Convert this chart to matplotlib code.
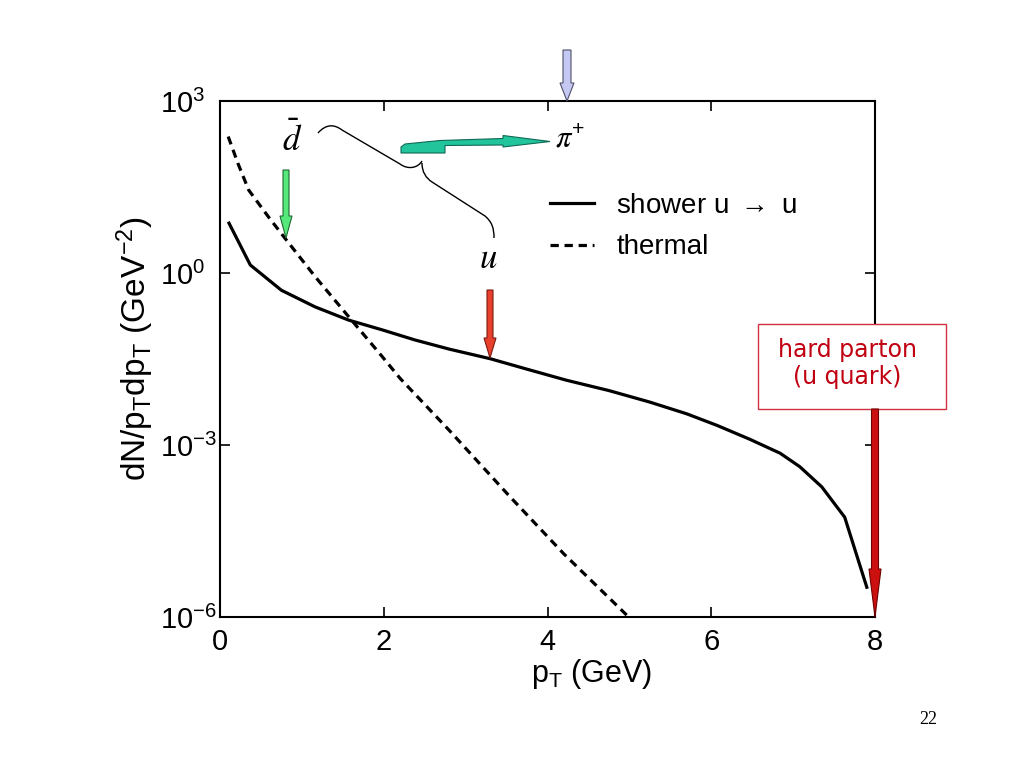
import matplotlib
matplotlib.use("Agg")
import matplotlib.pyplot as plt
import numpy as np
from matplotlib.patches import Polygon, Rectangle, PathPatch
from matplotlib.path import Path
from matplotlib.transforms import Affine2D

plt.rcParams["font.family"] = ["Liberation Sans", "DejaVu Sans"]
plt.rcParams["mathtext.fontset"] = "custom"
plt.rcParams["mathtext.rm"] = "Liberation Sans"
plt.rcParams["mathtext.it"] = "Liberation Sans:italic"
plt.rcParams["mathtext.bf"] = "Liberation Sans:bold"
plt.rcParams["mathtext.default"] = "regular"

# shower u -> u (solid curve)
shower_pt = [0.11, 0.37, 0.75, 1.16, 1.57, 1.98, 2.38, 2.80, 3.30, 3.75, 4.23,
             4.75, 5.25, 5.70, 6.07, 6.47, 6.84, 7.08, 7.35, 7.63, 7.90]
shower_dn = [7.4, 1.38, 0.50, 0.257, 0.151, 0.102, 0.068, 0.047, 0.032, 0.021,
             0.0135, 0.0089, 0.0056, 0.0035, 0.0022, 0.00126, 7.2e-4, 4.2e-4,
             1.86e-4, 5.5e-5, 3.3e-6]

# thermal (dashed curve)
thermal_pt = [0.10, 0.22, 0.35, 0.59, 0.79, 1.16, 1.57, 1.98, 2.20, 2.80, 3.54,
              4.20, 4.97]
thermal_dn = [240.0, 81.0, 28.0, 9.6, 4.1, 0.87, 0.174, 0.035, 0.0145, 1.8e-3,
              1.26e-4, 1.26e-5, 1.07e-6]

x_ticks = [0, 2, 4, 6, 8]
y_ticks = [1e-6, 1e-3, 1e0, 1e3]
y_tick_labels = [r"$10^{-6}$", r"$10^{-3}$", r"$10^{0}$", r"$10^{3}$"]
legend_labels = [r"shower u $\rightarrow$ u", "thermal"]

W, H = 1024, 768
fig = plt.figure(figsize=(W / 100, H / 100), dpi=100)
ax = fig.add_axes([220 / W, 1 - 617 / H, 655 / W, 516 / H])

ax.plot(shower_pt, shower_dn, color="black", lw=2.3, solid_joinstyle="round",
        label=legend_labels[0])
ax.plot(thermal_pt, thermal_dn, color="black", lw=2.3,
        linestyle=(0, (2.6, 1.8)), label=legend_labels[1])

ax.set_yscale("log")
ax.set_xlim(0, 8)
ax.set_ylim(1e-6, 1e3)
ax.set_xticks(x_ticks)
ax.set_xticklabels([str(t) for t in x_ticks])
ax.set_yticks(y_ticks)
ax.set_yticklabels(y_tick_labels)
ax.yaxis.set_minor_locator(matplotlib.ticker.NullLocator())
ax.tick_params(direction="in", top=True, right=True, length=7, width=1.2,
               labelsize=21)
ax.tick_params(axis="y", pad=43)
ax.tick_params(axis="x", pad=8)
for lbl in ax.get_yticklabels():
    lbl.set_horizontalalignment("left")
for sp in ax.spines.values():
    sp.set_linewidth(1.5)

ax.set_xlabel(r"p$_T$ (GeV)", fontsize=22)
ax.xaxis.set_label_coords(0.567, -0.078)
ax.set_ylabel(r"dN/p$_T$dp$_T$ (GeV$^{-2}$)", fontsize=24)
ax.yaxis.set_label_coords(-0.098, 0.52)

ax.legend(loc="upper left", bbox_to_anchor=(0.465, 0.87), frameon=False,
          fontsize=20, handlelength=1.6, handletextpad=0.8, labelspacing=0.55)

# annotations drawn in image pixel coordinates (origin top-left)
px = Affine2D().scale(1 / W, -1 / H).translate(0, 1) + fig.transFigure


def down_arrow(x, y0, y1, shaft, head, head_len, face, edge):
    pts = [(x - shaft, y0), (x + shaft, y0), (x + shaft, y1 - head_len),
           (x + head, y1 - head_len), (x, y1), (x - head, y1 - head_len),
           (x - shaft, y1 - head_len)]
    fig.patches.append(Polygon(pts, closed=True, facecolor=face, edgecolor=edge,
                               lw=0.8, transform=px, figure=fig, zorder=5))


down_arrow(567, 50, 101, 4, 7, 18, "#c5c8f2", "#50506a")
down_arrow(286, 170, 238, 3, 6, 22, "#55e87a", "#1f6a30")
down_arrow(490, 290, 358, 3, 6, 20, "#e8402c", "#7a1a10")
down_arrow(875, 409, 617, 3.5, 6, 48, "#cc1010", "#700000")

# green-teal bent arrow
teal = [(401, 153), (401, 147), (405, 144), (440, 140.5), (503, 138.5),
        (503, 135.5), (550, 141.5), (503, 147), (503, 145), (445, 145.5),
        (445, 153)]
fig.patches.append(Polygon(teal, closed=True, facecolor="#22c49c",
                           edgecolor="#0f6a55", lw=0.8, transform=px, figure=fig))

# curly brace joining d-bar and u
verts = [(318, 133), (326, 124), (334, 124), (342, 130), (400, 164),
         (408, 170), (418, 168), (422, 161),
         (422, 163), (422, 172), (426, 178), (432, 182), (485, 216),
         (492, 222), (494, 228), (494, 238)]
codes = [Path.MOVETO, Path.CURVE4, Path.CURVE4, Path.CURVE4, Path.LINETO,
         Path.CURVE4, Path.CURVE4, Path.CURVE4,
         Path.MOVETO, Path.CURVE4, Path.CURVE4, Path.CURVE4, Path.LINETO,
         Path.CURVE4, Path.CURVE4, Path.CURVE4]
fig.patches.append(PathPatch(Path(verts, codes), facecolor="none",
                             edgecolor="black", lw=1.0, transform=px, figure=fig))

fig.text(292 / W, 1 - 140 / H, r"$\bar{\mathit{d}}$", fontsize=25,
         math_fontfamily="stix", ha="center", va="center")
fig.text(570 / W, 1 - 140 / H, r"$\mathit{\pi}^{+}$", fontsize=22,
         math_fontfamily="stix", ha="center", va="center")
fig.text(488 / W, 1 - 258 / H, r"$\mathit{u}$", fontsize=25,
         math_fontfamily="stix", ha="center", va="center")

# hard parton box
fig.patches.append(Rectangle((758, 324), 188, 85, facecolor="white",
                             edgecolor="#d03040", lw=1.0, transform=px,
                             figure=fig, zorder=4))
fig.text(847 / W, 1 - 350 / H, "hard parton", color="#c00010", fontsize=17,
         family="DejaVu Sans", ha="center", va="center", zorder=6)
fig.text(847 / W, 1 - 377 / H, "(u quark)", color="#c00010", fontsize=17,
         family="DejaVu Sans", ha="center", va="center", zorder=6)

fig.text(928 / W, 1 - 720 / H, "22", fontsize=13, family="Liberation Serif",
         ha="center", va="center")

fig.savefig("out.png", dpi=100)
